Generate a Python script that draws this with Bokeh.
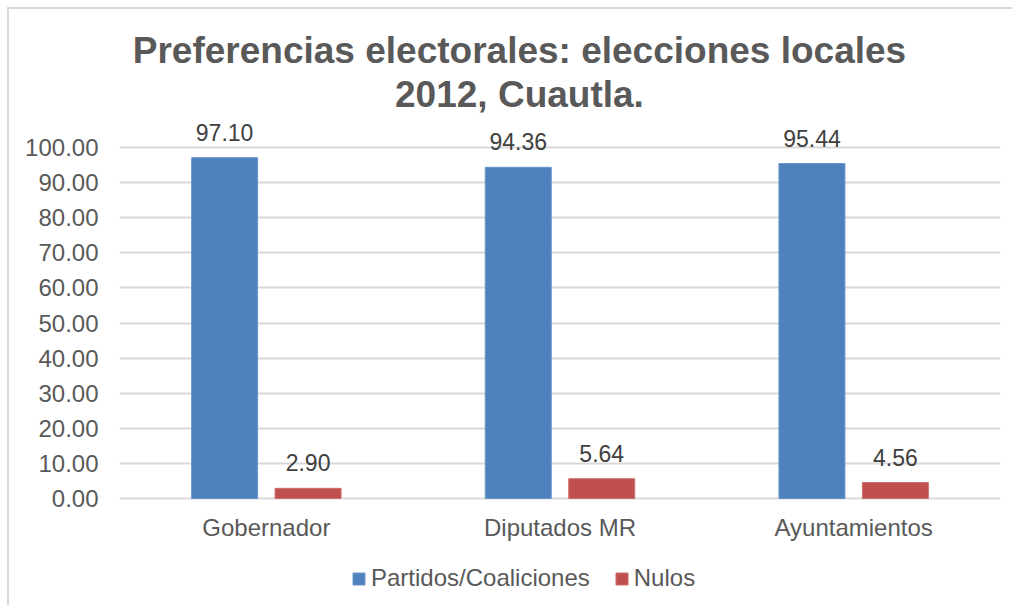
from bokeh.plotting import figure
from bokeh.models import (ColumnDataSource, FactorRange, Range1d, LabelSet,
                          Legend, LegendItem, NumeralTickFormatter, FixedTicker)
from bokeh.transform import dodge
from bokeh.embed import file_html
from bokeh.resources import INLINE
from bokeh.core.properties import value

categories = ["Gobernador", "Diputados MR", "Ayuntamientos"]
partidos = [97.10, 94.36, 95.44]
nulos = [2.90, 5.64, 4.56]
series_names = ["Partidos/Coaliciones", "Nulos"]
title_lines = ["Preferencias electorales: elecciones locales", "2012, Cuautla."]
y_ticks = [0, 10, 20, 30, 40, 50, 60, 70, 80, 90, 100]

FONT = "Liberation Sans"
BLUE = "#4F81BD"
RED = "#C0504D"
TXT = "#595959"

src = ColumnDataSource(dict(
    cat=categories, p=partidos, n=nulos,
    pl=["%.2f" % v for v in partidos], nl=["%.2f" % v for v in nulos],
))

# frame covers full height; y range chosen so 0..100 sits where the reference plot area is
p = figure(width=1005, height=598, x_range=FactorRange(*categories),
           y_range=Range1d(-31.05, 139.32), output_backend="svg", toolbar_location=None,
           min_border_left=110, min_border_right=14, min_border_top=0,
           min_border_bottom=0)
p.title = None
p.outline_line_color = None
p.background_fill_color = "white"
p.border_fill_color = "white"
p.styles = {"margin-left": "7px", "margin-top": "7px",
            "border-left": "2px solid #D9D9D9", "border-top": "2px solid #D9D9D9"}

bw = 0.2247
off = 0.1421
r1 = p.vbar(x=dodge("cat", -off, range=p.x_range), top="p", width=bw, bottom=0,
            source=src, fill_color=BLUE, line_color="#6A95CC", line_width=1)
r2 = p.vbar(x=dodge("cat", off, range=p.x_range), top="n", width=bw, bottom=0,
            source=src, fill_color=RED, line_color="#CD6F6C", line_width=1)

p.add_layout(LabelSet(x=dodge("cat", -off, range=p.x_range), y="p", text="pl", source=src,
                      text_align="center", text_baseline="alphabetic", y_offset=17,
                      text_font=value(FONT), text_font_size="23px", text_color="#404040"))
p.add_layout(LabelSet(x=dodge("cat", off, range=p.x_range), y="n", text="nl", source=src,
                      text_align="center", text_baseline="alphabetic", y_offset=17,
                      text_font=value(FONT), text_font_size="23px", text_color="#404040"))

# category labels (x axis)
p.add_layout(LabelSet(x="cat", y=-10.54, text="cat", source=src,
                      text_align="center", text_baseline="alphabetic",
                      text_font=value(FONT), text_font_size="24px", text_color=TXT))
p.xaxis.visible = False

# grid
p.xgrid.grid_line_color = None
p.ygrid.grid_line_color = "#D9D9D9"
p.ygrid.grid_line_width = 2
p.yaxis.ticker = FixedTicker(ticks=y_ticks)
p.yaxis.formatter = NumeralTickFormatter(format="0.00")
p.yaxis.axis_line_color = None
p.yaxis.major_tick_line_color = None
p.yaxis.minor_tick_line_color = None
p.yaxis.major_tick_out = 0
p.yaxis.major_label_standoff = 21
p.yaxis.major_label_text_font = FONT
p.yaxis.major_label_text_font_size = "24px"
p.yaxis.major_label_text_color = TXT

# title
tsrc = ColumnDataSource(dict(t=title_lines, y=[124.2, 111.4]))
p.add_layout(LabelSet(x=1.362, y="y", text="t", source=tsrc,
                      text_align="center", text_baseline="alphabetic",
                      text_font=value(FONT), text_font_size="37px", text_font_style="bold",
                      text_color=TXT))

legend = Legend(items=[LegendItem(label=series_names[0], renderers=[r1]),
                       LegendItem(label=series_names[1], renderers=[r2])],
                orientation="horizontal", location=(232, 15),
                glyph_width=15, glyph_height=15, label_standoff=5, spacing=24,
                padding=0, margin=0, border_line_color=None, background_fill_alpha=0,
                label_text_font=FONT, label_text_font_size="24px", label_text_color=TXT)
p.add_layout(legend, "center")

open("out.html", "w").write(file_html(p, INLINE))
